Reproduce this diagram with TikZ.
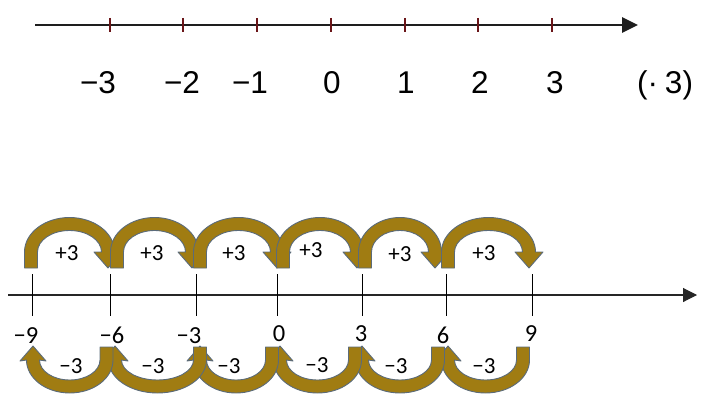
\documentclass[tikz,border=0pt]{standalone}
\usepackage{fontspec}
\setmainfont{Liberation Sans}
\newfontfamily\calfont{Carlito}
\usetikzlibrary{arrows.meta}
\definecolor{arcfill}{HTML}{A07C12}
\definecolor{arcline}{HTML}{5B6B7A}
\definecolor{tickred}{HTML}{6A1518}
\definecolor{topline}{HTML}{1E1E1E}
\newcommand{\uparrowshape}[2]{%
  \pgfmathsetmacro\rx{(#2-#1)/2}%
  \fill[arcfill, draw=arcline, line width=0.9pt, line join=round]
    (#1-6.5,268) -- (#1-6.5,252)
    arc[start angle=180, end angle=0, x radius=\rx pt+6.5pt, y radius=34.5pt]
    -- (#2+14,252) -- (#2,268) -- (#2-14,252) -- (#2-6.5,252)
    arc[start angle=0, end angle=180, x radius=\rx pt-6.5pt, y radius=21.5pt]
    -- (#1+6.5,268) -- cycle;}
\newcommand{\downarrowshape}[2]{%
  \pgfmathsetmacro\rx{(#1-#2)/2}%
  \fill[arcfill, draw=arcline, line width=0.9pt, line join=round]
    (#1+6.5,347) -- (#1+6.5,360)
    arc[start angle=0, end angle=-180, x radius=\rx pt+6.5pt, y radius=33pt]
    -- (#2-13,361) -- (#2,346) -- (#2+13,361) -- (#2+6.5,360)
    arc[start angle=180, end angle=360, x radius=\rx pt-6.5pt, y radius=20pt]
    -- (#1-6.5,347) -- cycle;}
\tikzset{
  toplabel/.style={anchor=base, inner sep=0pt, font=\fontsize{31.5}{32}\selectfont},
  botlabel/.style={anchor=base, inner sep=0pt, font=\calfont\fontsize{24.5}{25}\selectfont},
  arclabel/.style={anchor=base, inner sep=0pt, font=\calfont\fontsize{23}{24}\selectfont},
  toptick/.style={draw=tickred, line width=2pt},
  bottick/.style={draw=black, line width=0.9pt},
}
\begin{document}
\begin{tikzpicture}[x=1pt, y=-1pt]
\useasboundingbox (0,0) rectangle (701,396);
% top number line
\coordinate (ts) at (35,25);
\coordinate (te) at (638,25);
\draw[topline, line width=2.6pt, -{Triangle[length=16pt,width=15pt]}] (ts) -- (te);
\foreach \x/\n in {110/a,183/b,257/c,331/d,405/e,478/f,552/g}{
  \coordinate (tt\n1) at (\x,18);
  \coordinate (tt\n2) at (\x,32);
  \draw[toptick] (tt\n1) -- (tt\n2);
}
\node[toplabel] (l1) at (98,93) {−3};
\node[toplabel] (l2) at (182,93) {−2};
\node[toplabel] (l3) at (250,93) {−1};
\node[toplabel] (l4) at (332,93) {0};
\node[toplabel] (l5) at (406,93) {1};
\node[toplabel] (l6) at (480,93) {2};
\node[toplabel] (l7) at (555,93) {3};
\node[toplabel] (l8) at (665,93) {(·\kern7pt3)};
% bottom number line
\coordinate (bs) at (8,295);
\coordinate (be) at (697,295);
\draw[black!85, line width=1.1pt, -{Triangle[length=14pt,width=14pt]}] (bs) -- (be);
\foreach \x/\n in {32/a,110/b,196/c,277/d,362/e,446/f,532/g}{
  \coordinate (bt\n1) at (\x,274);
  \coordinate (bt\n2) at (\x,316);
  \draw[bottick] (bt\n1) -- (bt\n2);
}
\node[botlabel] (m1) at (26,343) {−9};
\node[botlabel] (m2) at (112,343) {−6};
\node[botlabel] (m3) at (189,343) {−3};
\node[botlabel] (m4) at (279,341) {0};
\node[botlabel] (m5) at (361,341) {3};
\node[botlabel] (m6) at (443,343) {6};
\node[botlabel] (m7) at (531,341) {9};
% upper curved arrows
\uparrowshape{31}{108}
\uparrowshape{117}{192}
\uparrowshape{200}{277}
\uparrowshape{283}{357}
\uparrowshape{365}{435}
\uparrowshape{448}{529}
% lower curved arrows
\downarrowshape{523}{448}
\downarrowshape{438}{362}
\downarrowshape{355}{280}
\downarrowshape{272}{200}
\downarrowshape{200}{115}
\downarrowshape{106.5}{33}
% labels on arrows
\node[arclabel] (p1) at (67,260) {+3};
\node[arclabel] (p2) at (152,260) {+3};
\node[arclabel] (p3) at (234,260) {+3};
\node[arclabel] (p4) at (311,257) {+3};
\node[arclabel] (p5) at (400,261) {+3};
\node[arclabel] (p6) at (484,260) {+3};
\node[arclabel] (n1) at (71,373) {−3};
\node[arclabel] (n2) at (153,373) {−3};
\node[arclabel] (n3) at (229,373) {−3};
\node[arclabel] (n4) at (317,372) {−3};
\node[arclabel] (n5) at (396,373) {−3};
\node[arclabel] (n6) at (484,373) {−3};
\end{tikzpicture}
\end{document}
